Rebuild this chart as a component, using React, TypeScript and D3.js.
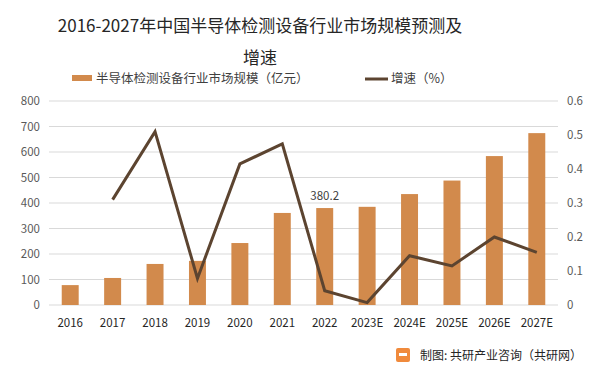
import React, { useEffect, useRef } from "react";
import * as d3 from "d3";

const years = ["2016", "2017", "2018", "2019", "2020", "2021", "2022", "2023E", "2024E", "2025E", "2026E", "2027E"];
const marketSize = [78, 106, 161, 173, 243, 361, 380.2, 385, 435, 488, 584, 674];
const growthRate = [null, 0.31, 0.51, 0.078, 0.415, 0.474, 0.042, 0.007, 0.145, 0.115, 0.2, 0.155];
const leftTicks = [0, 100, 200, 300, 400, 500, 600, 700, 800];
const rightTicks = [0, 0.1, 0.2, 0.3, 0.4, 0.5, 0.6];

const FONT = "'Noto Sans CJK SC', 'Noto Sans', sans-serif";
const BAR_COLOR = "#d28a4c";
const LINE_COLOR = "#5c4430";

const App: React.FC = () => {
  const ref = useRef<SVGSVGElement | null>(null);

  useEffect(() => {
    const width = 598;
    const height = 372;
    const margin = { top: 101, right: 40, bottom: 67, left: 49 };
    const chartWidth = width - margin.left - margin.right;
    const chartHeight = height - margin.top - margin.bottom;

    const root = d3.select(ref.current);
    root.selectAll("*").remove();
    root.attr("width", width).attr("height", height);

    root.append("rect").attr("width", width).attr("height", height).attr("fill", "#fff");

    // title
    const title = root
      .append("text")
      .attr("text-anchor", "middle")
      .style("font-family", FONT)
      .style("font-size", "17px")
      .attr("fill", "#262626");
    title.append("tspan").attr("x", 260).attr("y", 32).text("2016-2027年中国半导体检测设备行业市场规模预测及");
    title.append("tspan").attr("x", 260).attr("y", 64).text("增速");

    // legend
    const legend = root.append("g").style("font-family", FONT).style("font-size", "12.5px");
    legend.append("rect").attr("x", 72).attr("y", 75).attr("width", 20).attr("height", 6).attr("fill", BAR_COLOR);
    legend.append("text").attr("x", 96).attr("y", 83).attr("fill", "#404040").text("半导体检测设备行业市场规模（亿元）");
    legend.append("line").attr("x1", 365).attr("x2", 388).attr("y1", 79).attr("y2", 79).attr("stroke", LINE_COLOR).attr("stroke-width", 3);
    legend.append("text").attr("x", 391).attr("y", 83).attr("fill", "#404040").text("增速（%）");

    const g = root.append("g").attr("transform", `translate(${margin.left},${margin.top})`);

    const x = d3.scaleBand().domain(years).range([0, chartWidth]).paddingInner(0.6).paddingOuter(0.3);
    const step = x.step();
    const xc = (d: string) => (x(d) as number) + x.bandwidth() / 2;

    const yL = d3.scaleLinear().domain([0, 800]).range([chartHeight, 0]);
    const yR = d3.scaleLinear().domain([0, 0.6]).range([chartHeight, 0]);

    // grid
    g.append("g")
      .selectAll("line")
      .data(leftTicks)
      .enter()
      .append("line")
      .attr("x1", 0)
      .attr("x2", chartWidth)
      .attr("y1", (d) => yL(d))
      .attr("y2", (d) => yL(d))
      .attr("stroke", "#d9d9d9")
      .attr("stroke-width", 1);

    // left axis labels
    g.append("g")
      .selectAll("text")
      .data(leftTicks)
      .enter()
      .append("text")
      .attr("x", -9)
      .attr("y", (d) => yL(d))
      .attr("dy", "0.35em")
      .attr("text-anchor", "end")
      .style("font-family", FONT)
      .style("font-size", "11.5px")
      .attr("fill", "#595959")
      .text((d) => d);

    // right axis labels
    g.append("g")
      .selectAll("text")
      .data(rightTicks)
      .enter()
      .append("text")
      .attr("x", chartWidth + 9)
      .attr("y", (d) => yR(d))
      .attr("dy", "0.35em")
      .attr("text-anchor", "start")
      .style("font-family", FONT)
      .style("font-size", "11.5px")
      .attr("fill", "#595959")
      .text((d) => d3.format("~g")(d));

    // x labels
    g.append("g")
      .selectAll("text")
      .data(years)
      .enter()
      .append("text")
      .attr("x", (d) => xc(d))
      .attr("y", chartHeight + 22)
      .attr("text-anchor", "middle")
      .style("font-family", FONT)
      .style("font-size", "11.5px")
      .attr("fill", "#262626")
      .text((d) => d);

    // bars
    g.append("g")
      .selectAll("rect")
      .data(years)
      .enter()
      .append("rect")
      .attr("x", (d) => x(d) as number)
      .attr("width", x.bandwidth())
      .attr("y", (_d, i) => yL(marketSize[i]))
      .attr("height", (_d, i) => chartHeight - yL(marketSize[i]))
      .attr("fill", BAR_COLOR);

    // data label
    const idx = years.indexOf("2022");
    g.append("text")
      .attr("x", xc("2022"))
      .attr("y", yL(marketSize[idx]) - 8)
      .attr("text-anchor", "middle")
      .style("font-family", FONT)
      .style("font-size", "11.5px")
      .attr("fill", "#404040")
      .text(marketSize[idx]);

    // growth line
    const pts = years
      .map((d, i) => ({ d, v: growthRate[i] }))
      .filter((p) => p.v !== null) as { d: string; v: number }[];
    g.append("path")
      .datum(pts)
      .attr("fill", "none")
      .attr("stroke", LINE_COLOR)
      .attr("stroke-width", 3)
      .attr("stroke-linejoin", "miter")
      .attr(
        "d",
        d3
          .line<{ d: string; v: number }>()
          .x((p) => xc(p.d))
          .y((p) => yR(p.v))
      );

    // footer
    const foot = root.append("g").attr("transform", "translate(396,348)");
    foot.append("rect").attr("x", 0).attr("y", 0).attr("width", 14).attr("height", 14).attr("rx", 2).attr("fill", "#f08a3c");
    foot.append("rect").attr("x", 3).attr("y", 5).attr("width", 8).attr("height", 3).attr("fill", "#fff");
    foot
      .append("text")
      .attr("x", 24)
      .attr("y", 12)
      .style("font-family", FONT)
      .style("font-size", "12px")
      .attr("fill", "#262626")
      .text("制图: 共研产业咨询（共研网）");

    void step;
  }, []);

  return (
    <div style={{ width: 598, height: 372, margin: -8 }}>
      <svg ref={ref} style={{ display: "block" }} />
    </div>
  );
};

export default App;
